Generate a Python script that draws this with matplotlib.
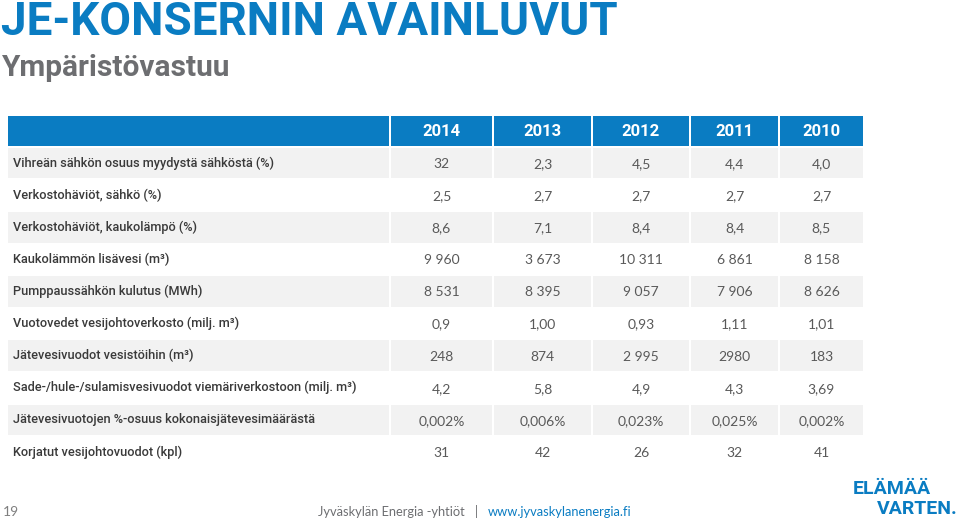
import matplotlib.pyplot as plt
from matplotlib.patches import Rectangle

years = ["2014", "2013", "2012", "2011", "2010"]
labels = [
    "Vihreän sähkön osuus myydystä sähköstä (%)",
    "Verkostohäviöt, sähkö (%)",
    "Verkostohäviöt, kaukolämpö (%)",
    "Kaukolämmön lisävesi (m³)",
    "Pumppaussähkön kulutus (MWh)",
    "Vuotovedet vesijohtoverkosto (milj. m³)",
    "Jätevesivuodot vesistöihin (m³)",
    "Sade-/hule-/sulamisvesivuodot viemäriverkostoon (milj. m³)",
    "Jätevesivuotojen %-osuus kokonaisjätevesimäärästä",
    "Korjatut vesijohtovuodot (kpl)",
]
v2014 = ["32", "2,5", "8,6", "9 960", "8 531", "0,9", "248", "4,2", "0,002%", "31"]
v2013 = ["2,3", "2,7", "7,1", "3 673", "8 395", "1,00", "874", "5,8", "0,006%", "42"]
v2012 = ["4,5", "2,7", "8,4", "10 311", "9 057", "0,93", "2 995", "4,9", "0,023%", "26"]
v2011 = ["4,4", "2,7", "8,4", "6 861", "7 906", "1,11", "2980", "4,3", "0,025%", "32"]
v2010 = ["4,0", "2,7", "8,5", "8 158", "8 626", "1,01", "183", "3,69", "0,002%", "41"]
columns = [v2014, v2013, v2012, v2011, v2010]

blue = "#0a7cc2"
grey_row = "#f2f2f2"
label_col = "#3a3a3a"
num_col = "#595959"

col_edges = [7, 390, 493, 592, 690, 779, 864]
head_top, head_h = 116, 30
row_top, row_h = 147, 32.1

fig = plt.figure(figsize=(9.6, 5.21), dpi=100)
ax = fig.add_axes([0, 0, 1, 1])
ax.set_xlim(0, 960)
ax.set_ylim(521, 0)
ax.axis("off")

# title
ax.text(1, 35, "JE-KONSERNIN AVAINLUVUT", fontsize=33, fontweight="bold",
        family="Roboto", color=blue, va="baseline", ha="left")
ax.text(2, 76, "Ympäristövastuu", fontsize=21.5, fontweight="bold",
        family="Roboto", color="#6d6e71", va="baseline", ha="left")

# header
for j in range(6):
    x0, x1 = col_edges[j], col_edges[j + 1]
    ax.add_patch(Rectangle((x0 + 0.8, head_top), x1 - x0 - 1.6, head_h,
                           facecolor=blue, edgecolor="none"))
    if j > 0:
        ax.text((x0 + x1) / 2, head_top + head_h / 2 + 1, years[j - 1],
                fontsize=12, fontweight="bold", family="Roboto",
                color="white", ha="center", va="center")

# body rows
for i, lab in enumerate(labels):
    y0 = row_top + i * row_h
    yc = y0 + row_h / 2
    if i % 2 == 0:
        for j in range(6):
            x0, x1 = col_edges[j], col_edges[j + 1]
            ax.add_patch(Rectangle((x0 + 0.8, y0 + 0.8), x1 - x0 - 1.6, row_h - 1.6,
                                   facecolor=grey_row, edgecolor="none"))
    ax.text(13, yc, lab, fontsize=9.15, family="Roboto", fontweight="medium",
            color=label_col, ha="left", va="center")
    for j, vals in enumerate(columns):
        x0, x1 = col_edges[j + 1], col_edges[j + 2]
        ax.text((x0 + x1) / 2, yc + 1, vals[i], fontsize=10, family="Lato",
                color=num_col, ha="center", va="center")

# footer
ax.text(3, 512, "19", fontsize=10, family="Lato", color="#7f7f7f",
        ha="left", va="center")
ax.text(465, 512, "Jyväskylän Energia -yhtiöt", fontsize=9.3, family="Lato",
        color="#6d6e71", ha="right", va="center")
ax.text(476, 512, "|", fontsize=9.3, family="Lato", color="#6d6e71",
        ha="center", va="center")
ax.text(488, 512, "www.jyvaskylanenergia.fi", fontsize=9.3, family="Lato",
        color=blue, ha="left", va="center")
ax.text(853, 489, "ELÄMÄÄ", fontsize=14, fontweight="bold", family="Roboto",
        color=blue, ha="left", va="center")
ax.text(958, 509, "VARTEN.", fontsize=14, fontweight="bold", family="Roboto",
        color=blue, ha="right", va="center")

fig.savefig("out.png", dpi=100, facecolor="white")
